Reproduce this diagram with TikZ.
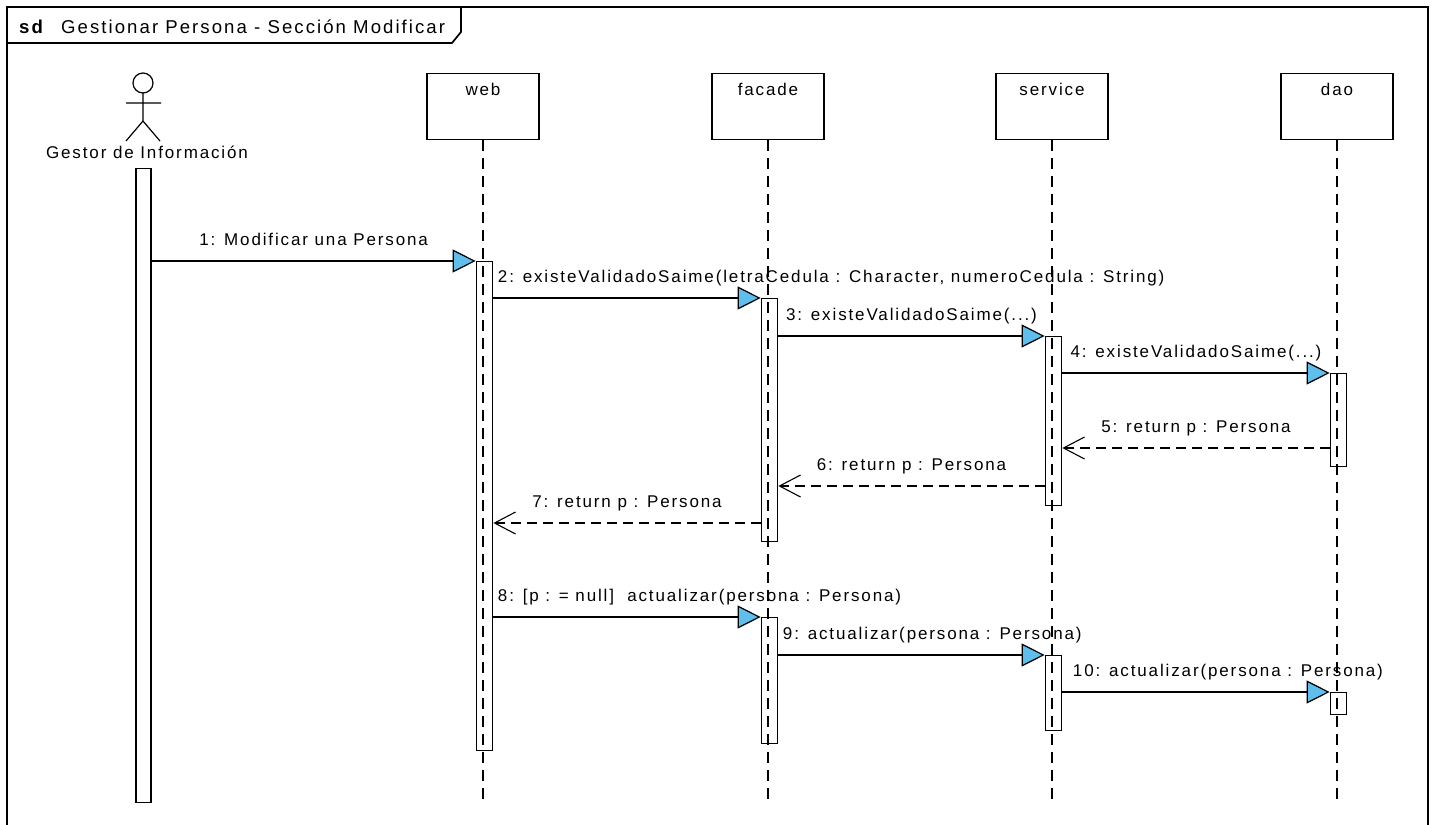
\documentclass[tikz,border=0pt]{standalone}
\usepackage{fontspec}
\setmainfont{Liberation Sans}[LetterSpace=11]
\usetikzlibrary{arrows.meta}
\definecolor{tipblue}{RGB}{95,190,235}
\begin{document}
\begin{tikzpicture}[x=1pt,y=-1pt,
  font=\fontsize{17}{20}\selectfont,
  every node/.style={inner sep=0pt},
  frameline/.style={line width=1.7pt},
  titlefont/.style={font=\fontsize{18.6}{22}\selectfont},
  objbox/.style={draw, line width=1.3pt, minimum width=112pt, anchor=north,
    text height=22pt, text depth=44pt},
  lifeline/.style={line width=1.1pt, dash pattern=on 11pt off 7pt},
  actbar/.style={draw, line width=1.2pt, minimum width=16.5pt, anchor=north},
  call/.style={line width=1.2pt, -{Triangle[length=23pt,width=23pt,fill=tipblue,line width=1.2pt]}},
  reply/.style={line width=1.1pt, dash pattern=on 10pt off 6pt,
    -{Straight Barb[length=21pt,width=22pt,line width=1.1pt]}},
  midtext/.style={pos=0.5, anchor=base, yshift=16pt},
  starttext/.style={pos=0, anchor=base west, xshift=4pt, yshift=16pt}
]
\useasboundingbox (0,0) rectangle (1436,825);

% frame and its name tab
\draw[frameline] (7,825) -- (7,7) -- (1428,7) -- (1428,825);
\draw[frameline] (7,43) -- (452,43) -- (461,32) -- (461,7);
\node[titlefont, anchor=base west] (sd) at (19,33) {\bfseries sd};
\node[titlefont, anchor=base west] (title) at (61,33) {Gestionar Persona - Sección Modificar};

% actor
\draw[line width=1.2pt] (143,83) circle (10pt);
\draw[line width=1.2pt] (143,93) -- (143,121) (126,103) -- (161,103)
  (126,141) -- (143,121) -- (160,141);
\node[anchor=base] (actor) at (147,158) {Gestor de Información};
\node[actbar, minimum width=15pt, minimum height=634pt] (actA) at (143.5,168) {};

% lifeline heads
\node[objbox] (web) at (483,73) {web};
\node[objbox] (facade) at (768,73) {facade};
\node[objbox] (service) at (1052,73) {service};
\node[objbox] (dao) at (1337,73) {dao};

% lifelines
\foreach \o in {web,facade,service,dao}{
  \coordinate (\o end) at (\o.south |- 0,805);
  \draw[lifeline] (\o.south) -- (\o end);
}

% activation bars
\node[actbar, minimum height=489pt] (webA)  at (484.5,261) {};
\node[actbar, minimum height=243pt] (facA1) at (769.5,298) {};
\node[actbar, minimum height=169pt] (serA1) at (1053.5,336) {};
\node[actbar, minimum height=93pt]  (daoA1) at (1338.5,373) {};
\node[actbar, minimum height=126pt] (facA2) at (769.5,617) {};
\node[actbar, minimum height=75pt]  (serA2) at (1053.5,655) {};
\node[actbar, minimum height=22pt]  (daoA2) at (1338.5,692) {};

% messages
\draw[call] (actA.east |- 0,261) -- (webA.west |- 0,261)
  node[midtext] (l1) {1: Modificar una Persona};
\draw[call] (webA.east |- 0,298) -- (facA1.west |- 0,298)
  node[starttext] (l2) {2: existeValidadoSaime(letraCedula : Character, numeroCedula : String)};
\draw[call] (facA1.east |- 0,336) -- (serA1.west |- 0,336)
  node[midtext] (l3) {3: existeValidadoSaime(...)};
\draw[call] (serA1.east |- 0,373) -- (daoA1.west |- 0,373)
  node[midtext] (l4) {4: existeValidadoSaime(...)};
\draw[reply] (daoA1.west |- 0,448) -- (serA1.east |- 0,448)
  node[midtext] (l5) {5: return p : Persona};
\draw[reply] (serA1.west |- 0,486) -- (facA1.east |- 0,486)
  node[midtext] (l6) {6: return p : Persona};
\draw[reply] (facA1.west |- 0,523) -- (webA.east |- 0,523)
  node[midtext] (l7) {7: return p : Persona};
\draw[call] (webA.east |- 0,617) -- (facA2.west |- 0,617)
  node[starttext] (l8) {8: [p : = null]\ \ actualizar(persona : Persona)};
\draw[call] (facA2.east |- 0,655) -- (serA2.west |- 0,655)
  node[starttext] (l9) {9: actualizar(persona : Persona)};
\draw[call] (serA2.east |- 0,692) -- (daoA2.west |- 0,692)
  node[starttext, xshift=6pt] (l10) {10: actualizar(persona : Persona)};
\end{tikzpicture}
\end{document}
